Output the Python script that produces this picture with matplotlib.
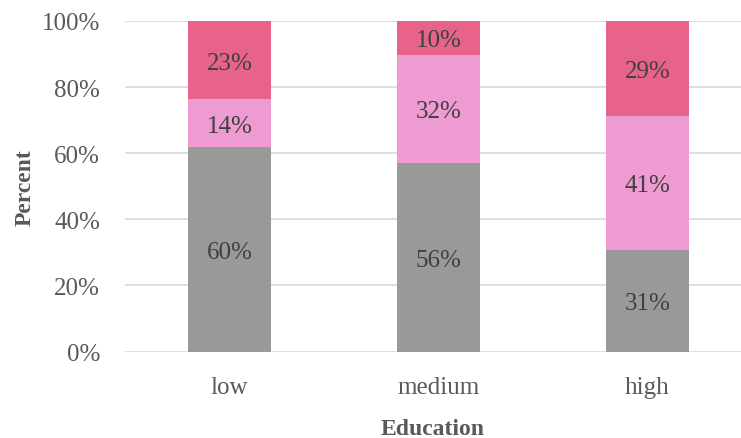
import numpy as np
import matplotlib.pyplot as plt

# rounded shares per education level, as printed on the bars
education = ["low", "medium", "high"]
share_bottom = [60, 56, 31]
share_middle = [14, 32, 41]
share_top = [23, 10, 29]

colors = ["#999999", "#EE9BD3", "#E7638A"]

plt.rcParams["font.family"] = ["Liberation Serif", "DejaVu Serif"]

fig = plt.figure(figsize=(7.41, 4.39), dpi=100)
ax = fig.add_axes([125 / 741, 86.5 / 439, 616 / 741, 330.5 / 439])

data = np.array([share_bottom, share_middle, share_top], dtype=float)
totals = data.sum(axis=0)
x = np.arange(len(education))
bottom = np.zeros(len(education))
for vals, col in zip(data, colors):
    h = vals / totals * 100
    ax.bar(x, h, width=0.4, bottom=bottom, color=col, zorder=3)
    for xi, b, hi, v in zip(x, bottom, h, vals):
        ax.text(xi, b + hi / 2, f"{v:.0f}%", ha="center", va="center_baseline",
                fontsize=18, color="#404040", zorder=4)
    bottom += h

# slots are 209 px wide, the plot runs to the right edge
ax.set_xlim(-0.5, 616 / 209 - 0.5)
ax.set_ylim(0, 100)
ax.set_yticks(np.arange(0, 101, 20))
ax.set_yticklabels([f"{t}%" for t in range(0, 101, 20)])
ax.set_xticks(x)
ax.set_xticklabels(education)
ax.yaxis.grid(True, color="#D9D9D9", linewidth=1.2, zorder=0)
ax.tick_params(length=0, labelsize=18, colors="#595959")
ax.tick_params(axis="x", pad=18)
ax.tick_params(axis="y", pad=18)
for s in ax.spines.values():
    s.set_visible(False)

ax.set_ylabel("Percent", fontsize=17, fontweight="bold", color="#595959", labelpad=4)
ax.set_xlabel("Education", fontsize=17, fontweight="bold", color="#595959", labelpad=14)

fig.savefig("out.png", dpi=100)
